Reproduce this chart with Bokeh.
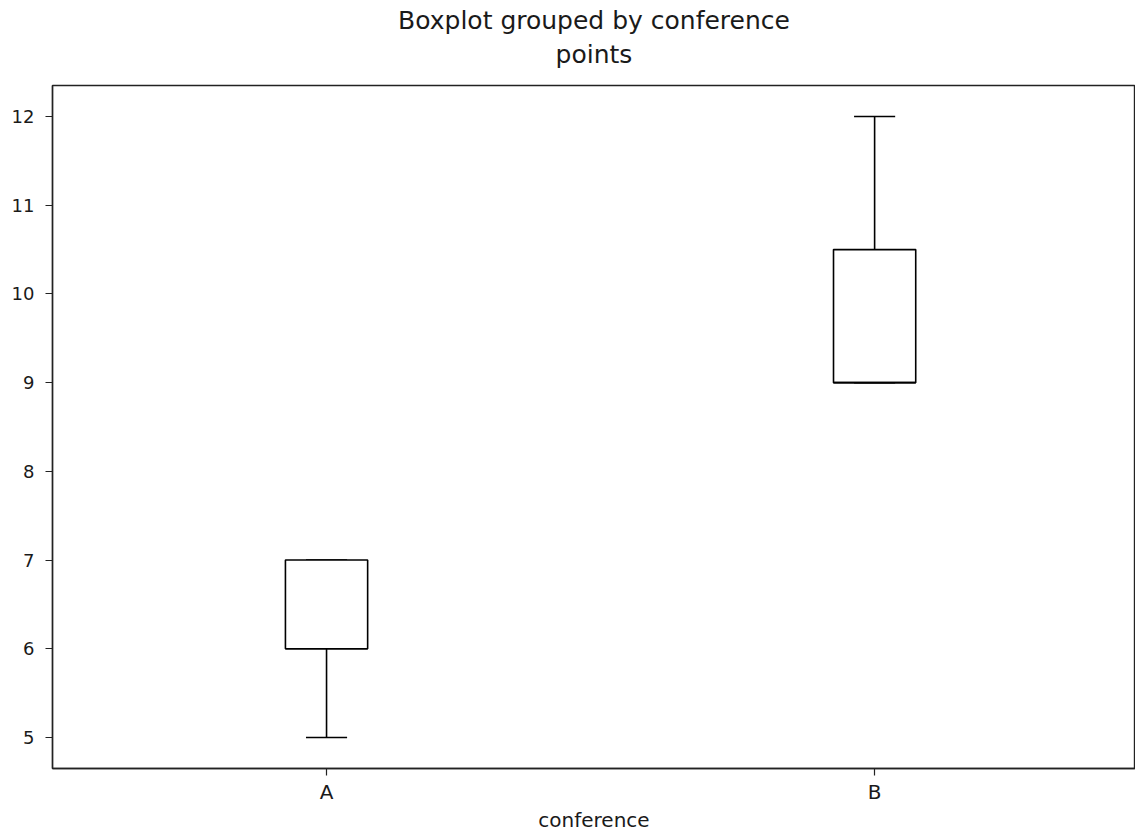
import numpy as np
from bokeh.plotting import figure
from bokeh.models import Range1d, FixedTicker, Title, ColumnDataSource
from bokeh.embed import file_html
from bokeh.resources import INLINE

categories = ["A", "B"]
positions = [1, 2]
q1 = [6, 9]
q3 = [7, 10.5]
median = [6, 9]
whisker_low = [5, 9]
whisker_high = [7, 12]
y_ticks = [5, 6, 7, 8, 9, 10, 11, 12]
suptitle_text = "Boxplot grouped by conference"
title_text = "points"
x_label = "conference"

box_width = 0.15
cap_width = 0.075

pos = np.array(positions, dtype=float)
src = ColumnDataSource(dict(
    x=pos, q1=q1, q3=q3, med=median, lo=whisker_low, hi=whisker_high,
    cl=pos - cap_width / 2, cr=pos + cap_width / 2,
    bl=pos - box_width / 2, br=pos + box_width / 2,
))

FONT = "DejaVu Sans"
TXT = "#1a1a1a"
LW = 1.6

p = figure(width=1135, height=834, output_backend="svg", toolbar_location=None,
           x_range=Range1d(0.5, 2.476), y_range=Range1d(4.65, 12.35),
           min_border_left=52, min_border_right=0, min_border_top=85,
           min_border_bottom=66)
p.background_fill_color = "white"
p.border_fill_color = "white"
p.outline_line_color = "#222222"
p.outline_line_width = 1.4
p.xgrid.visible = False
p.ygrid.visible = False

p.title.text = suptitle_text
p.title.align = "center"
p.title.text_font = FONT
p.title.text_font_size = "25px"
p.title.text_font_style = "normal"
p.title.text_color = TXT
p.title.standoff = -26
p.add_layout(Title(text=title_text, align="center",
                   text_font=FONT, text_font_size="25px", text_font_style="normal",
                   text_color=TXT, standoff=33), "above")

# whiskers
p.segment(x0="x", y0="q3", x1="x", y1="hi", source=src, line_color="black", line_width=LW)
p.segment(x0="x", y0="lo", x1="x", y1="q1", source=src, line_color="black", line_width=LW)
# caps
p.segment(x0="cl", y0="hi", x1="cr", y1="hi", source=src, line_color="black", line_width=LW)
p.segment(x0="cl", y0="lo", x1="cr", y1="lo", source=src, line_color="black", line_width=LW)
# boxes
p.vbar(x="x", width=box_width, bottom="q1", top="q3", source=src,
       fill_color="white", line_color="black", line_width=LW)
# medians
p.segment(x0="bl", y0="med", x1="br", y1="med", source=src, line_color="black", line_width=LW)

for ax in (p.xaxis[0], p.yaxis[0]):
    ax.axis_line_color = "#222222"
    ax.axis_line_width = 1.4
    ax.major_tick_line_color = "#222222"
    ax.major_tick_line_width = 1.2
    ax.major_tick_out = 7
    ax.major_tick_in = 0
    ax.minor_tick_line_color = None
    ax.major_label_text_font = FONT
    ax.major_label_text_color = TXT

p.xaxis.ticker = FixedTicker(ticks=positions)
p.xaxis.major_label_overrides = {pp: c for pp, c in zip(positions, categories)}
p.xaxis.major_label_text_font_size = "20px"
p.xaxis.major_label_standoff = 4
p.xaxis.axis_label = x_label
p.xaxis.axis_label_text_font = FONT
p.xaxis.axis_label_text_font_size = "20px"
p.xaxis.axis_label_text_font_style = "normal"
p.xaxis.axis_label_text_color = TXT
p.xaxis.axis_label_standoff = 1

p.yaxis.ticker = FixedTicker(ticks=y_ticks)
p.yaxis.major_label_text_font_size = "18px"
p.yaxis.major_label_standoff = 11

open("out.html", "w").write(file_html(p, INLINE))
